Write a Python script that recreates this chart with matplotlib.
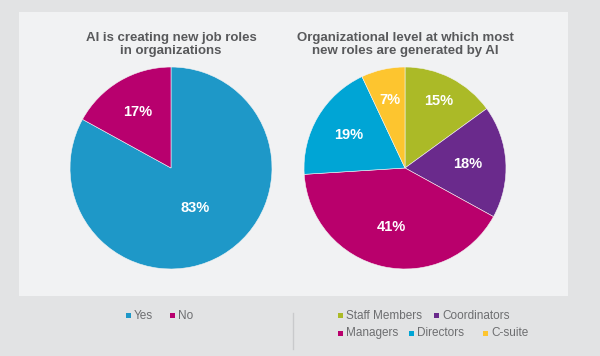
import matplotlib
matplotlib.use("Agg")
import numpy as np
import matplotlib.pyplot as plt
from matplotlib.patches import Rectangle
from matplotlib.lines import Line2D

# left pie
jobs_labels = ["Yes", "No"]
jobs_values = [83, 17]
jobs_colors = ["#1e98c8", "#b8006e"]

# right pie
level_labels = ["Staff Members", "Coordinators", "Managers", "Directors", "C-suite"]
level_values = [15, 18, 41, 19, 7]
level_colors = ["#abba27", "#6a2a8c", "#b9006c", "#00a5d5", "#fdc52f"]

W, H = 600, 356
NARROW = ["Liberation Sans Narrow", "Liberation Sans", "DejaVu Sans"]
SANS = ["Liberation Sans", "DejaVu Sans"]


def fx(px):
    return px / W


def fy(py):
    return 1 - py / H


def draw_pie(fig, cx, cy, r, values, colors, dists):
    ax = fig.add_axes([fx(cx - r), fy(cy + r), 2 * r / W, 2 * r / H])
    wedges, _ = ax.pie(values, colors=colors, startangle=90, counterclock=False,
                       radius=1, wedgeprops=dict(edgecolor="#f4f4f4", linewidth=0.4))
    for w, v, d in zip(wedges, values, dists):
        ang = np.deg2rad((w.theta1 + w.theta2) / 2)
        ax.text(d * np.cos(ang), d * np.sin(ang), f"{v}%", ha="center", va="center",
                color="white", fontsize=10.5, fontweight="bold", family=SANS)
    ax.set_xlim(-1.01, 1.01)
    ax.set_ylim(-1.01, 1.01)
    ax.axis("off")
    return ax


fig = plt.figure(figsize=(6, 3.56), dpi=100)
fig.patch.set_facecolor("#e2e3e4")

# panel
fig.add_artist(Rectangle((fx(19), fy(296)), 549 / W, 284 / H, transform=fig.transFigure,
                         facecolor="#f1f2f3", edgecolor="none", zorder=0))

draw_pie(fig, 171, 168, 102, jobs_values, jobs_colors, [0.46, 0.64])
draw_pie(fig, 405, 168, 102, level_values, level_colors, [0.74, 0.62, 0.60, 0.65, 0.69])

title_kw = dict(ha="center", va="baseline", color="#58595b", fontsize=9.5,
                fontweight="bold", family=NARROW)
fig.text(fx(171), fy(41), "AI is creating new job roles", **title_kw)
fig.text(fx(171), fy(54), "in organizations", **title_kw)
fig.text(fx(405), fy(41), "Organizational level at which most", **title_kw)
fig.text(fx(405), fy(54), "new roles are generated by AI", **title_kw)

# legends
leg_kw = dict(ha="left", va="center", color="#6d6e70", fontsize=8.5, family=SANS)


def legend_item(xsq, ytxt, color, label):
    fig.add_artist(Rectangle((fx(xsq), fy(ytxt + 2.5)), 5 / W, 5 / H,
                             transform=fig.transFigure, facecolor=color,
                             edgecolor="none"))
    fig.text(fx(xsq + 8), fy(ytxt), label, **leg_kw)


left_leg_x = [126, 170]
for x, c, lab in zip(left_leg_x, jobs_colors, jobs_labels):
    legend_item(x, 315.7, c, lab)

right_leg_pos = [(338, 315.7), (434, 315.7), (338, 333), (409, 333), (483, 333)]
for (x, y), c, lab in zip(right_leg_pos, level_colors, level_labels):
    legend_item(x, y, c, lab)

fig.add_artist(Line2D([fx(293), fx(293)], [fy(313), fy(349)], transform=fig.transFigure,
                      color="#c9cacc", linewidth=1))

fig.savefig("out.png", dpi=100, facecolor=fig.get_facecolor())
